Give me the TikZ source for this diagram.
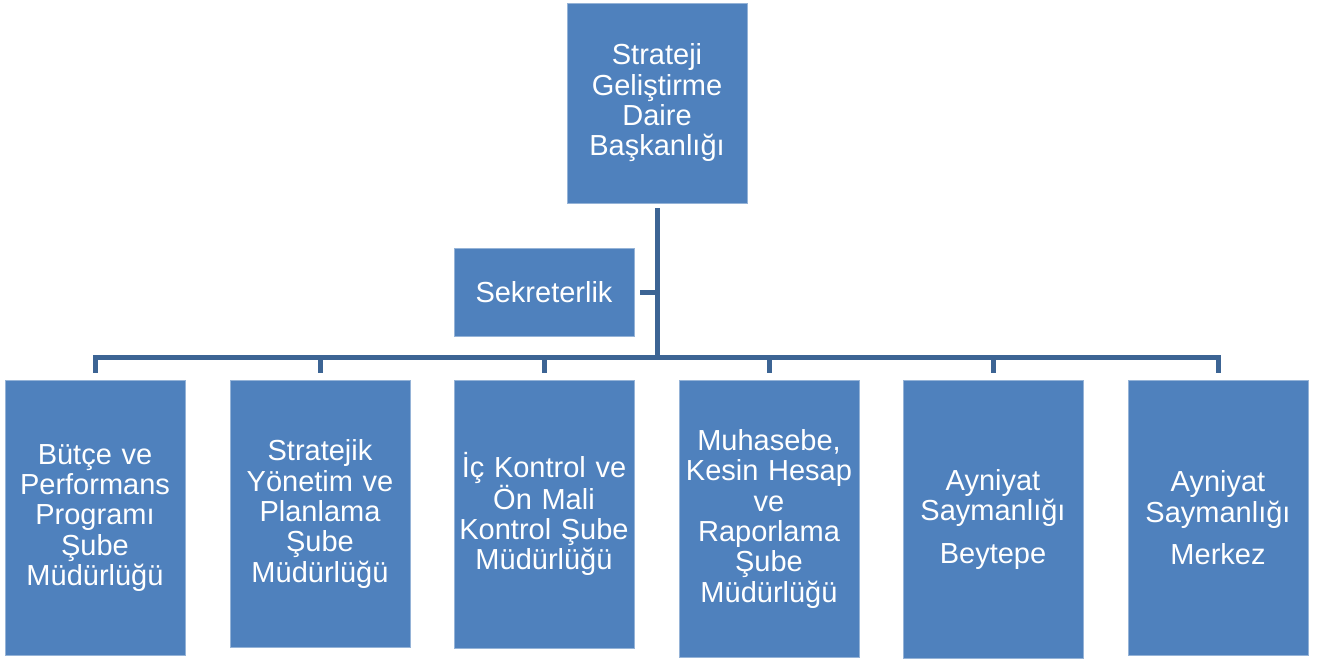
\documentclass[tikz,border=0pt]{standalone}
\usepackage{fontspec}
\setmainfont{Liberation Sans}
\definecolor{unitblue}{HTML}{4F81BD}
\definecolor{linkblue}{HTML}{3C6494}

\begin{document}
\begin{tikzpicture}[x=1pt,y=1pt,
  unit/.style={rectangle,fill=unitblue,draw=unitblue!60!white,line width=0.8pt,
    text=white,inner sep=0pt,minimum width=180pt,text width=176pt,align=center,
    font=\fontsize{29}{30.3}\selectfont},
  link/.style={draw=linkblue,line width=5pt}]

  \useasboundingbox (0,0) rectangle (1321,-659);

  \node [unit, minimum height=200pt] (top) at (657,-103) {Strateji\\Geliştirme\\Daire\\Başkanlığı};
  \node [unit, minimum height=88pt] (sek) at (544,-292) {Sekreterlik};

  \node [unit, anchor=north, minimum height=275pt] (butce) at (95,-380)
    {Bütçe ve\\Performans\\Programı\\Şube\\Müdürlüğü};
  \node [unit, anchor=north, minimum height=267pt] (strat) at (320,-380)
    {Stratejik\\Yönetim ve\\Planlama\\Şube\\Müdürlüğü};
  \node [unit, anchor=north, minimum height=268pt] (ickon) at (544,-380)
    {İç Kontrol ve\\Ön Mali\\Kontrol Şube\\Müdürlüğü};
  \node [unit, anchor=north, minimum height=277pt] (muh) at (769,-380)
    {Muhasebe,\\Kesin Hesap\\ve\\Raporlama\\Şube\\Müdürlüğü};
  \node [unit, anchor=north, minimum height=278pt] (beyt) at (993,-380)
    {Ayniyat\\Saymanlığı\\[12pt]Beytepe};
  \node [unit, anchor=north, minimum height=275pt] (merk) at (1218,-380)
    {Ayniyat\\Saymanlığı\\[12pt]Merkez};

  \coordinate (bar) at (657,-357);

  \draw [link, shorten <=5pt] (top.south) -- (top.south |- bar);
  \draw [link, shorten >=6pt] (top.south |- sek.east) -- (sek.east);
  \foreach \u in {butce,strat,ickon,muh,beyt,merk}
    \draw [link, shorten >=7pt] (top.south |- bar) -| (\u.north);
\end{tikzpicture}
\end{document}
